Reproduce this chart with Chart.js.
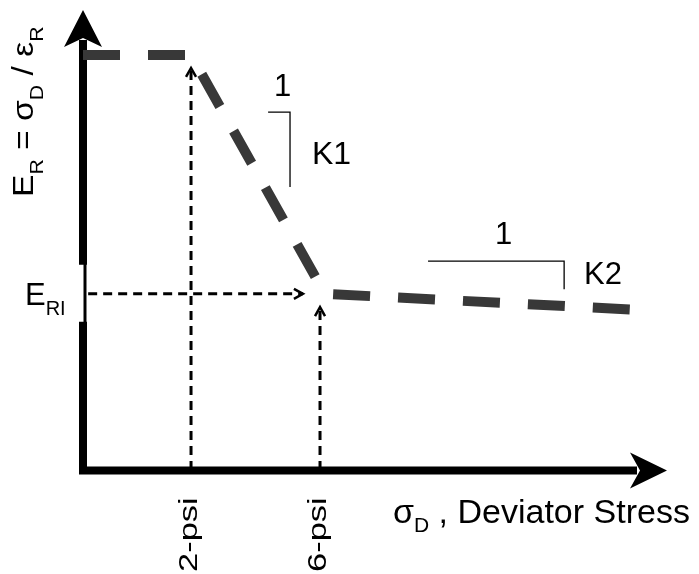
<!DOCTYPE html>
<html>
<head>
<meta charset="utf-8">
<script src="https://cdn.jsdelivr.net/npm/chart.js@4.4.0/dist/chart.umd.min.js"></script>
<style>
  html, body { margin: 0; padding: 0; background: #fff; }
  canvas { display: block; }
</style>
</head>
<body>
<canvas id="modulusChart" width="699" height="574"></canvas>
<script>
// resilient modulus vs deviator stress (schematic, arbitrary units)
const curveX = [-1.35, 2.0, 6.15, 15.92];
const curveY = [9.02, 9.02, 3.83, 3.48];

const eriValue = 3.83;
const eriArrowX = [-1.19, 5.47];

const psiTicks = [2, 6];
const psiLabels = ['2-psi', '6-psi'];
const psiArrowTop = [8.74, 3.54];

// slope brackets
const k1X = [4.39, 5.07, 5.07];
const k1Y = [7.78, 7.78, 6.15];
const k2X = [9.35, 13.57, 13.57];
const k2Y = [4.54, 4.54, 3.93];

const FONT = "'Liberation Sans', Arial, sans-serif";

function pts(xs, ys) {
  return xs.map(function(x, i) { return { x: x, y: ys[i] }; });
}

const guideStyle = {
  borderColor: '#000',
  borderWidth: 3,
  borderDash: [9, 6],
  pointRadius: 0,
  fill: false,
  clip: false,
  arrow: true
};

const bracketStyle = {
  borderColor: '#000',
  borderWidth: 1.3,
  pointRadius: 0,
  fill: false,
  clip: false
};

const datasets = [
  Object.assign({ data: pts(eriArrowX, [eriValue, eriValue]) }, guideStyle),
  Object.assign({ data: pts([psiTicks[0], psiTicks[0]], [0, psiArrowTop[0]]) }, guideStyle),
  Object.assign({ data: pts([psiTicks[1], psiTicks[1]], [0, psiArrowTop[1]]) }, guideStyle),
  Object.assign({ data: pts(k1X, k1Y) }, bracketStyle),
  Object.assign({ data: pts(k2X, k2Y) }, bracketStyle),
  {
    data: pts(curveX, curveY),
    borderColor: '#383838',
    borderWidth: 10,
    borderDash: [37, 28],
    borderCapStyle: 'butt',
    borderJoinStyle: 'miter',
    pointRadius: 0,
    fill: false,
    clip: false
  }
];

// draw text pieces one after another, subscripts lowered
function drawRuns(ctx, runs) {
  let x = 0;
  runs.forEach(function(r) {
    ctx.font = r.size + 'px ' + FONT;
    ctx.fillText(r.t, x, r.dy || 0);
    x += ctx.measureText(r.t).width;
  });
}

function chevron(ctx, tx, ty, fx, fy) {
  const a = Math.atan2(ty - fy, tx - fx);
  ctx.save();
  ctx.translate(tx, ty);
  ctx.rotate(a);
  ctx.setLineDash([]);
  ctx.lineWidth = 2.5;
  ctx.strokeStyle = '#000';
  ctx.beginPath();
  ctx.moveTo(-9, -5);
  ctx.lineTo(0, 0);
  ctx.lineTo(-9, 5);
  ctx.stroke();
  ctx.restore();
}

const axesPlugin = {
  id: 'schematicAxes',
  beforeDatasetsDraw: function(chart) {
    const ctx = chart.ctx;
    const a = chart.chartArea;
    const yS = chart.scales.y;
    const eriPx = yS.getPixelForValue(eriValue);
    const yb = a.bottom + 0.5;
    ctx.save();
    ctx.fillStyle = '#000';
    ctx.strokeStyle = '#000';
    ctx.lineCap = 'butt';

    // y axis, with a break next to E_RI
    ctx.lineWidth = 8;
    ctx.beginPath();
    ctx.moveTo(a.left, a.top + 30);
    ctx.lineTo(a.left, eriPx - 29);
    ctx.moveTo(a.left, eriPx + 28);
    ctx.lineTo(a.left, a.bottom + 4);
    ctx.stroke();
    ctx.lineWidth = 3;
    ctx.beginPath();
    ctx.moveTo(a.left + 2, eriPx - 30);
    ctx.lineTo(a.left + 2, eriPx + 29);
    ctx.stroke();
    ctx.beginPath();
    ctx.moveTo(a.left, a.top);
    ctx.lineTo(a.left - 19, a.top + 37);
    ctx.lineTo(a.left, a.top + 28);
    ctx.lineTo(a.left + 19, a.top + 37);
    ctx.closePath();
    ctx.fill();

    // x axis
    ctx.lineWidth = 8;
    ctx.beginPath();
    ctx.moveTo(a.left - 4, yb);
    ctx.lineTo(a.right - 30, yb);
    ctx.stroke();
    ctx.beginPath();
    ctx.moveTo(a.right, yb);
    ctx.lineTo(a.right - 37, yb - 18);
    ctx.lineTo(a.right - 27, yb);
    ctx.lineTo(a.right - 37, yb + 18);
    ctx.closePath();
    ctx.fill();
    ctx.restore();
  },
  afterDatasetsDraw: function(chart) {
    const ctx = chart.ctx;
    const xS = chart.scales.x;
    const yS = chart.scales.y;

    // arrow heads on the guide lines
    chart.data.datasets.forEach(function(ds, i) {
      if (!ds.arrow) return;
      const els = chart.getDatasetMeta(i).data;
      const p = els[els.length - 1], q = els[els.length - 2];
      chevron(ctx, p.x, p.y, q.x, q.y);
    });

    ctx.save();
    ctx.fillStyle = '#000';
    ctx.textAlign = 'left';
    ctx.textBaseline = 'alphabetic';

    // y axis title
    ctx.save();
    ctx.translate(33, 197);
    ctx.rotate(-Math.PI / 2);
    ctx.scale(1.12, 1);
    drawRuns(ctx, [
      { t: 'E', size: 30 }, { t: 'R', size: 19, dy: 10 },
      { t: ' = \u03c3', size: 30 }, { t: 'D', size: 19, dy: 10 },
      { t: ' / \u03b5', size: 30 }, { t: 'R', size: 19, dy: 10 }
    ]);
    ctx.restore();

    // E_RI label
    ctx.save();
    ctx.translate(25, yS.getPixelForValue(eriValue) + 11);
    drawRuns(ctx, [{ t: 'E', size: 31 }, { t: 'RI', size: 20, dy: 10 }]);
    ctx.restore();

    // tick labels
    psiTicks.forEach(function(v, i) {
      ctx.save();
      ctx.translate(xS.getPixelForValue(v) + 6, 572);
      ctx.rotate(-Math.PI / 2);
      ctx.scale(1.38, 1);
      ctx.font = '25px ' + FONT;
      ctx.fillText(psiLabels[i], 0, 0);
      ctx.restore();
    });

    // x axis title
    ctx.save();
    ctx.translate(393, 523);
    drawRuns(ctx, [
      { t: '\u03c3', size: 34 }, { t: 'D', size: 21, dy: 9 },
      { t: ' , Deviator Stress', size: 34 }
    ]);
    ctx.restore();

    // slope labels
    ctx.font = '31px ' + FONT;
    ctx.fillText('1', 274, 96);
    ctx.fillText('1', 495, 244);
    ctx.font = '32px ' + FONT;
    ctx.fillText('K1', 312, 164);
    ctx.font = '31px ' + FONT;
    ctx.fillText('K2', 584, 284);
    ctx.restore();
  }
};

new Chart(document.getElementById('modulusChart'), {
  type: 'line',
  data: { datasets: datasets },
  options: {
    responsive: false,
    devicePixelRatio: 1,
    animation: false,
    layout: {
      padding: { left: 83, right: 32, top: 10, bottom: 104 }
    },
    plugins: {
      legend: { display: false },
      tooltip: { enabled: false }
    },
    scales: {
      x: { type: 'linear', min: -1.35, max: 16.76, display: false },
      y: { type: 'linear', min: 0, max: 10, display: false }
    }
  },
  plugins: [axesPlugin]
});
</script>
</body>
</html>
